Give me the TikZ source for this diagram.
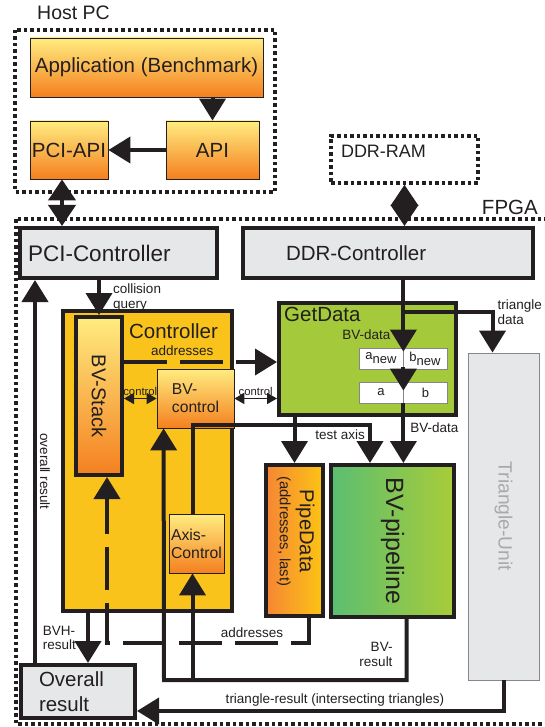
\documentclass[tikz,border=0pt]{standalone}
\usepackage{fontspec}
\setmainfont{Liberation Sans}
\usepackage{graphicx}
\usetikzlibrary{arrows.meta,positioning}
\definecolor{ink}{HTML}{231F20}
\definecolor{boxgray}{HTML}{E6E7E8}
\definecolor{ctlyellow}{HTML}{F9C31C}
\definecolor{lightyellow}{HTML}{FFEC80}
\definecolor{darkorange}{HTML}{F4801F}
\definecolor{getgreen}{HTML}{A4C93A}
\definecolor{pipegreen}{HTML}{5BBE72}
\definecolor{limegreen}{HTML}{A8CC38}
\definecolor{pipeorange}{HTML}{F58634}
\definecolor{pipeyellow}{HTML}{FDC414}
\definecolor{unitgray}{HTML}{A7A9AC}
\newcommand{\bigfont}{\fontsize{20.5}{23}\selectfont}
\newcommand{\smallfont}{\fontsize{13.5}{14.5}\selectfont}
\tikzset{
  thickbox/.style={draw=ink, line width=4pt, inner sep=0pt, text=ink, font=\bigfont},
  thinbox/.style={draw=ink, line width=0.8pt, inner sep=0pt, text=ink, font=\bigfont},
  orangebox/.style={thinbox, top color=lightyellow, bottom color=darkorange},
  regbox/.style={draw=unitgray!80!black, fill=white, line width=0.8pt, minimum width=44pt, minimum height=21pt, inner sep=0pt, text=ink, font=\fontsize{13}{14}\selectfont},
  dotbox/.style={draw=ink, line width=3.5pt, dash pattern=on 3.5pt off 3pt},
  bigarrow/.style={draw=ink, line width=4pt, -{Triangle[length=22pt,width=26pt]}},
  dblarrow/.style={draw=ink, line width=4pt, {Triangle[length=21pt,width=27pt]}-{Triangle[length=21pt,width=27pt]}},
  ctlarrow/.style={draw=ink, line width=1.6pt, {Triangle[length=10pt,width=11pt]}-{Triangle[length=10pt,width=11pt]}},
  longdash/.style={dash pattern=on 43pt off 13pt},
  lbl/.style={text=ink, font=\smallfont, inner sep=3pt}
}
\begin{document}
\begin{tikzpicture}[x=1pt, y=-1pt]
  \useasboundingbox (0,0) rectangle (545,727);
  \draw[dotbox] (15,30) rectangle (275,192);
  \draw[dotbox] (16,219) rectangle (560,724);
  \node[text=ink, font=\fontsize{19.5}{22}\selectfont, anchor=west, inner sep=0pt] (hostpc) at (37,12.5) {Host PC};
  \node[text=ink, font=\bigfont, anchor=east, inner sep=0pt] (fpga) at (538,207.5) {FPGA};
  \node[dotbox, minimum width=147pt, minimum height=47pt, text width=127pt, inner xsep=10pt, align=left, text depth=16pt, text=ink, font=\fontsize{18}{20}\selectfont] (ddrram) at (404.5,159.5) {DDR-RAM};

  \node[orangebox, minimum width=233pt, minimum height=59pt] (app) at (146.5,67.5) {Application (Benchmark)};
  \node[orangebox, minimum width=78pt, minimum height=58pt] (pciapi) at (69,150) {PCI-API};
  \node[orangebox, minimum width=93pt, minimum height=58pt] (api) at (212.5,150) {API};

  \node[thickbox, fill=boxgray, minimum width=197pt, minimum height=50pt, text width=181pt, inner xsep=8pt, align=left, font=\fontsize{22.5}{25}\selectfont] (pcictl) at (118.5,253) {PCI-Controller};
  \node[thickbox, fill=boxgray, minimum width=290pt, minimum height=50pt, text width=274pt, inner xsep=8pt, align=left] (ddrctl) at (388,253) {\hspace*{35pt}DDR-Controller};

  \node[thickbox, fill=ctlyellow, minimum width=169pt, minimum height=300pt, label={[anchor=north, xshift=26pt, yshift=-14pt, inner sep=0pt, text=ink, font=\bigfont]north:Controller}] (controller) at (147.5,461) {};
  \node[thickbox, top color=lightyellow, bottom color=darkorange, minimum width=46pt, minimum height=158pt, font=\fontsize{20}{22}\selectfont] (bvstack) at (99,396) {\rotatebox{-90}{BV-Stack}};
  \node[orangebox, minimum width=77pt, minimum height=59pt, align=left, font=\fontsize{15.7}{18}\selectfont] (bvctl) at (195.5,398.5) {BV-\\control};
  \node[orangebox, minimum width=55pt, minimum height=59pt, align=left, font=\fontsize{15.8}{18}\selectfont] (axisctl) at (196.5,543.5) {Axis-\\Control};

  \node[thickbox, fill=getgreen, minimum width=177pt, minimum height=112pt, label={[anchor=north west, xshift=7pt, yshift=-6pt, inner sep=0pt, text=ink, font=\bigfont]north west:GetData}] (getdata) at (367.5,359) {};
  \node[regbox] (anew) at (381,358.5) {a\raisebox{-4pt}{new}};
  \node[regbox] (bnew) at (425,358.5) {b\raisebox{-4pt}{new}};
  \node[regbox] (a) at (381,392.5) {a};
  \node[regbox] (b) at (425.5,392.5) {b};

  \node[thickbox, left color=pipeorange, right color=pipeyellow, minimum width=57pt, minimum height=151pt] (pipedata) at (294.5,540.5) {\rotatebox{-90}{\begin{tabular}{@{}c@{\hspace{18pt}}}\fontsize{20.2}{22}\selectfont PipeData\\[-3pt] \fontsize{14.9}{16}\selectfont (addresses, last)\end{tabular}}};
  \node[thickbox, left color=pipegreen, right color=limegreen, minimum width=123pt, minimum height=152pt, font=\fontsize{25}{28}\selectfont] (bvpipe) at (392.5,541) {\rotatebox{-90}{BV-pipeline}};
  \node[draw=unitgray!80!black, line width=0.8pt, fill=boxgray, minimum width=71pt, minimum height=327pt, inner sep=0pt, text=unitgray, font=\fontsize{19.2}{22}\selectfont] (triunit) at (503.5,516.5) {\rotatebox{-90}{Triangle-Unit}};
  \node[thickbox, fill=boxgray, minimum width=114pt, minimum height=53pt, text width=78pt, inner xsep=18pt, align=left, font=\fontsize{20.5}{25}\selectfont] (overall) at (78,691.5) {Overall\\result};

  \draw[bigarrow] (app.south -| api) -- (api.north);
  \draw[bigarrow] (api.west) -- (pciapi.east);
  \draw[dblarrow] ([xshift=-7pt]pciapi.south) -- ([xshift=-7pt]pciapi.south |- pcictl.north);
  \draw[dblarrow] (ddrram.south) -- (ddrram.south |- ddrctl.north);

  \draw[bigarrow] (pcictl.south -| bvstack) -- node[right=9pt, lbl, align=left]{collision\\query} (bvstack.north);
  \draw[bigarrow] ([xshift=16pt]overall.north west) -- node[midway, lbl, rotate=-90, anchor=south]{overall result} ([xshift=16pt]overall.north west |- pcictl.south);
  \draw[bigarrow] ([xshift=27pt]controller.south west) -- node[left=7pt, lbl, align=left]{BVH-\\result} ([xshift=27pt]controller.south west |- overall.north);

  \draw[bigarrow, longdash] ([yshift=34pt]bvstack.east) -- node[pos=0.38, above=1pt, lbl]{addresses} ([yshift=34pt]bvstack.east -| getdata.west);
  \draw[ctlarrow] (bvstack.east |- bvctl) -- node[above=1pt, lbl, inner sep=1pt, font=\fontsize{11.3}{12}\selectfont]{control} (bvctl.west);
  \draw[ctlarrow] (bvctl.east) -- node[above=1pt, lbl, inner sep=1pt, font=\fontsize{11.3}{12}\selectfont]{control} (bvctl.east -| getdata.west);

  \coordinate (axisbend) at (370,425);
  \draw[bigarrow] ([xshift=-4pt]axisctl.north) |- node[pos=1, below left, lbl]{test axis} (axisbend) -- (axisbend |- bvpipe.north);
  \draw[bigarrow] (getdata.south -| pipedata) -- (pipedata.north);

  \draw[bigarrow] (ddrctl.south -| anew.east) -- node[pos=0.77, left=8pt, lbl]{BV-data} ([yshift=-4pt]anew.north east);
  \coordinate (tribranch) at (403,312);
  \draw[bigarrow] (tribranch) -| node[pos=0.5, right=0pt, lbl, align=left]{triangle\\data} ([xshift=-11pt]triunit.north);
  \draw[bigarrow] ([yshift=2pt]anew.south east) -- ([yshift=-9pt]a.north east);
  \draw[bigarrow] (a.south east) -- node[pos=0.4, right=2pt, lbl]{BV-data} (a.south east |- bvpipe.north);

  \coordinate (resbus) at (164,680);
  \draw[bigarrow] ([xshift=14pt]bvpipe.south) |- node[pos=0.29, left=9pt, lbl, align=right]{BV-\\result} (resbus) -- ([xshift=7pt]bvctl.south west);
  \draw[bigarrow] ([xshift=-4pt]axisctl.south |- resbus) -- ([xshift=-4pt]axisctl.south);

  \coordinate (addrbus) at (107,643);
  \draw[bigarrow, longdash] ([xshift=14pt]pipedata.south) |- node[pos=0.64, above=0pt, lbl]{addresses} (addrbus) -- ([xshift=8pt]bvstack.south);
  \draw[bigarrow] (triunit.south) |- node[pos=0.73, above, lbl]{triangle-result (intersecting triangles)} ([yshift=-19.5pt]overall.east);
\end{tikzpicture}
\end{document}
